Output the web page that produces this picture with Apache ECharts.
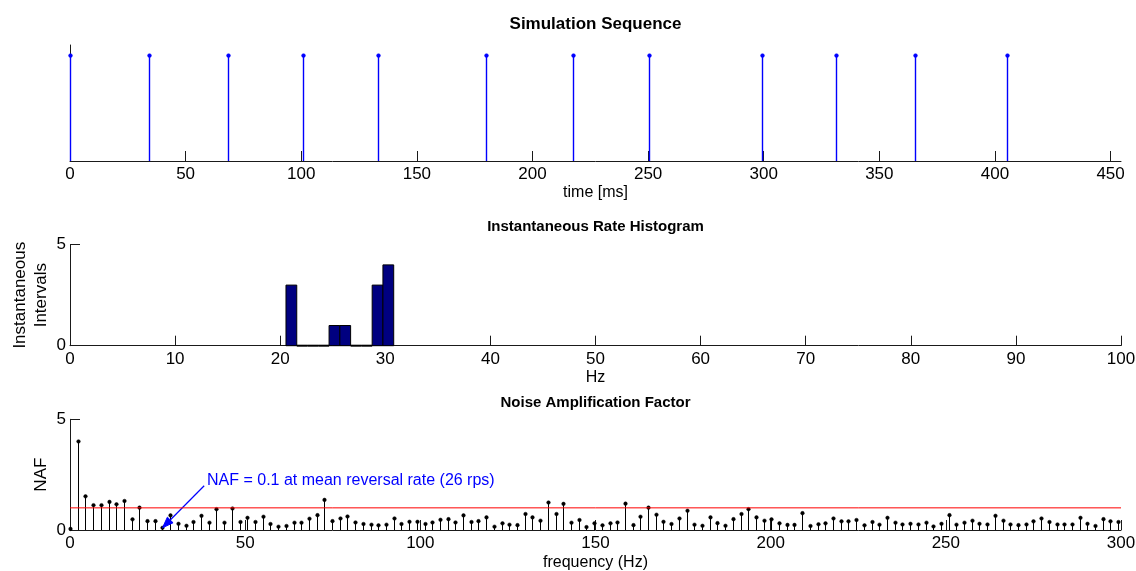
<!DOCTYPE html>
<html>
<head>
<meta charset="utf-8">
<script src="https://cdn.jsdelivr.net/npm/echarts@6/dist/echarts.min.js"></script>
<style>
  html, body { margin: 0; padding: 0; background: #fff; }
  #chart { width: 1136px; height: 571px; }
</style>
</head>
<body>
<div id="chart"></div>
<script>
// ---- Simulation sequence: spike times (ms) ----
const spikeTimes = [0, 34.3, 68.5, 100.9, 133.3, 180.0, 217.7, 250.3, 299.1, 331.3, 365.6, 405.1];
const spikeHeight = 1;
const timeMax = 454.5;
const timeTicks = [0, 50, 100, 150, 200, 250, 300, 350, 400, 450];

// ---- Instantaneous rate histogram (Hz) ----
const rateBinEdges = [20.55, 21.575, 22.6, 23.625, 24.65, 25.675, 26.7, 27.725, 28.75, 29.775, 30.8];
const rateCounts = [3, 0, 0, 0, 1, 1, 0, 0, 3, 4];

// ---- Noise amplification factor spectrum ----
const nafFreq = [
  0, 2.2, 4.4, 6.6, 8.8, 11, 13.2, 15.4, 17.6, 19.8,
  22, 24.2, 26.4, 28.6, 30.8, 33, 35.2, 37.4, 39.6, 41.8,
  44, 46.2, 48.4, 50.6, 52.8, 55, 57.2, 59.4, 61.6, 63.8,
  66, 68.2, 70.4, 72.6, 74.8, 77, 79.2, 81.4, 83.6, 85.8,
  88, 90.2, 92.4, 94.6, 96.8, 99, 101.2, 103.4, 105.6, 107.8,
  110, 112.2, 114.4, 116.6, 118.8, 121, 123.2, 125.4, 127.6, 129.8,
  132, 134.2, 136.4, 138.6, 140.8, 143, 145.2, 147.4, 149.6, 151.8,
  154, 156.2, 158.4, 160.6, 162.8, 165, 167.2, 169.4, 171.6, 173.8,
  176, 178.2, 180.4, 182.6, 184.8, 187, 189.2, 191.4, 193.6, 195.8,
  198, 200.2, 202.4, 204.6, 206.8, 209, 211.2, 213.4, 215.6, 217.8,
  220, 222.2, 224.4, 226.6, 228.8, 231, 233.2, 235.4, 237.6, 239.8,
  242, 244.2, 246.4, 248.6, 250.8, 253, 255.2, 257.4, 259.6, 261.8,
  264, 266.2, 268.4, 270.6, 272.8, 275, 277.2, 279.4, 281.6, 283.8,
  286, 288.2, 290.4, 292.6, 294.8, 297, 299.2
];
const nafValue = [
  0.05, 4.0, 1.52, 1.12, 1.12, 1.27, 1.16, 1.31, 0.48, 1.01,
  0.40, 0.40, 0.1, 0.66, 0.28, 0.19, 0.36, 0.64, 0.33, 0.94,
  0.33, 0.97, 0.36, 0.55, 0.36, 0.60, 0.27, 0.15, 0.18, 0.33,
  0.33, 0.51, 0.67, 1.36, 0.40, 0.52, 0.61, 0.34, 0.27, 0.24,
  0.21, 0.24, 0.52, 0.27, 0.37, 0.37, 0.27, 0.34, 0.46, 0.49,
  0.34, 0.66, 0.36, 0.40, 0.57, 0.15, 0.30, 0.24, 0.22, 0.72,
  0.57, 0.42, 1.24, 0.72, 1.18, 0.33, 0.45, 0.13, 0.30, 0.21,
  0.30, 0.34, 1.19, 0.22, 0.60, 1.01, 0.69, 0.37, 0.27, 0.52,
  0.87, 0.24, 0.19, 0.57, 0.31, 0.19, 0.49, 0.72, 0.94, 0.57,
  0.42, 0.48, 0.30, 0.23, 0.23, 0.76, 0.18, 0.26, 0.30, 0.52,
  0.39, 0.39, 0.45, 0.21, 0.36, 0.24, 0.55, 0.33, 0.25, 0.28,
  0.25, 0.33, 0.16, 0.28, 0.67, 0.24, 0.33, 0.42, 0.28, 0.25,
  0.64, 0.42, 0.25, 0.22, 0.25, 0.39, 0.52, 0.36, 0.25, 0.25,
  0.25, 0.55, 0.28, 0.18, 0.49, 0.39, 0.36
];
const nafThreshold = 1;
const meanRateIndex = 12;   // bin of the mean reversal rate (26 rps)

const FONT = '"Liberation Sans", Arial, Helvetica, sans-serif';
const AXIS_COLOR = '#1a1a1a';

const chart = echarts.init(document.getElementById('chart'), null, { renderer: 'canvas' });

// Stem plot item: vertical line from 0 to the value, dot on top
function stemRenderer(color, r, width) {
  return function (params, api) {
    const base = api.coord([api.value(0), 0]);
    const tip = api.coord([api.value(0), api.value(1)]);
    const x = Math.round(base[0]) + 0.5;
    return {
      type: 'group',
      children: [
        { type: 'line', shape: { x1: x, y1: base[1], x2: x, y2: tip[1] },
          style: { stroke: color, lineWidth: width } },
        { type: 'circle', shape: { cx: x, cy: tip[1], r: r },
          style: { fill: color, stroke: color, lineWidth: 0.5 } }
      ]
    };
  };
}

// Histogram bar item: rectangle between two bin edges
function histRenderer(params, api) {
  const lo = api.value(0), hi = api.value(1), n = api.value(2);
  const p0 = api.coord([lo, n]);
  const p1 = api.coord([hi, 0]);
  if (n === 0) {
    return { type: 'line', shape: { x1: p0[0], y1: p1[1], x2: p1[0], y2: p1[1] },
             style: { stroke: '#000', lineWidth: 2 } };
  }
  return {
    type: 'rect',
    shape: { x: p0[0], y: p0[1], width: p1[0] - p0[0], height: p1[1] - p0[1] },
    style: { fill: '#000080', stroke: '#000', lineWidth: 1 }
  };
}

// Annotation arrow: straight shaft from the label to the point, filled head at the end
function arrowRenderer(params, api) {
  const a = api.coord([api.value(0), api.value(1)]);
  const b = api.coord([api.value(2), api.value(3)]);
  const dx = b[0] - a[0], dy = b[1] - a[1];
  const len = Math.sqrt(dx * dx + dy * dy);
  const ux = dx / len, uy = dy / len;
  const headL = 11, headW = 4;
  const bx = b[0] - ux * headL, by = b[1] - uy * headL;
  return {
    type: 'group',
    children: [
      { type: 'line', shape: { x1: a[0], y1: a[1], x2: bx, y2: by },
        style: { stroke: '#0000ff', lineWidth: 1.2 } },
      { type: 'polygon',
        shape: { points: [[b[0], b[1]], [bx - uy * headW, by + ux * headW], [bx + uy * headW, by - ux * headW]] },
        style: { fill: '#0000ff', stroke: '#0000ff', lineWidth: 1 } }
    ]
  };
}

function valueAxis(extra) {
  return Object.assign({
    type: 'value',
    nameMoveOverlap: false,
    axisLine: { show: true, onZero: false, lineStyle: { color: AXIS_COLOR, width: 1 } },
    axisTick: { show: true, inside: true, length: 10, lineStyle: { color: AXIS_COLOR, width: 1 } },
    axisLabel: { color: '#000', fontSize: 17, fontFamily: FONT, margin: 5 },
    splitLine: { show: false },
    nameTextStyle: { color: '#000', fontSize: 16, fontFamily: FONT }
  }, extra);
}

const plotCenterX = 70 + (1136 - 70 - 15) / 2;

const option = {
  backgroundColor: '#fff',
  animation: false,
  grid: [
    { left: 70, right: 15, top: 45, height: 116, outerBoundsMode: 'none' },
    { left: 70, right: 15, top: 244.7, height: 101, outerBoundsMode: 'none' },
    { left: 70, right: 15, top: 419.3, height: 110.7, outerBoundsMode: 'none' }
  ],
  xAxis: [
    valueAxis({
      gridIndex: 0, min: 0, max: timeMax, interval: 50,
      axisTick: { show: true, inside: true, length: 10, customValues: timeTicks,
                  lineStyle: { color: AXIS_COLOR, width: 1 } },
      axisLabel: { color: '#000', fontSize: 17, fontFamily: FONT, margin: 5, customValues: timeTicks },
      name: 'time [ms]', nameLocation: 'middle', nameGap: 24
    }),
    valueAxis({
      gridIndex: 1, min: 0, max: 100, interval: 10,
      name: 'Hz', nameLocation: 'middle', nameGap: 24
    }),
    valueAxis({
      gridIndex: 2, min: 0, max: 300, interval: 50,
      name: 'frequency (Hz)', nameLocation: 'middle', nameGap: 25
    })
  ],
  yAxis: [
    valueAxis({
      gridIndex: 0, min: 0, max: 1.1,
      axisTick: { show: false }, axisLabel: { show: false }
    }),
    valueAxis({
      gridIndex: 1, min: 0, max: 5, interval: 5,
      axisLabel: { color: '#000', fontSize: 17, fontFamily: FONT, margin: 4 },
      name: 'Instantaneous\nIntervals', nameLocation: 'middle', nameRotate: 90, nameGap: 18,
      nameTextStyle: { color: '#000', fontSize: 17, fontFamily: FONT, lineHeight: 21 }
    }),
    valueAxis({
      gridIndex: 2, min: 0, max: 5, interval: 5,
      axisLabel: { color: '#000', fontSize: 17, fontFamily: FONT, margin: 4 },
      name: 'NAF', nameLocation: 'middle', nameRotate: 90, nameGap: 20,
      nameTextStyle: { color: '#000', fontSize: 17, fontFamily: FONT }
    })
  ],
  series: [
    {
      name: 'spikes', type: 'custom', xAxisIndex: 0, yAxisIndex: 0,
      renderItem: stemRenderer('#0000ff', 1.9, 1.4),
      data: spikeTimes.map(t => [t, spikeHeight])
    },
    {
      name: 'rate histogram', type: 'custom', xAxisIndex: 1, yAxisIndex: 1,
      renderItem: histRenderer,
      data: rateCounts.map((c, i) => [rateBinEdges[i], rateBinEdges[i + 1], c])
    },
    {
      name: 'NAF', type: 'custom', xAxisIndex: 2, yAxisIndex: 2,
      renderItem: stemRenderer('#000000', 1.8, 1),
      data: nafFreq.map((f, i) => [f, nafValue[i]])
    },
    {
      name: 'threshold', type: 'line', xAxisIndex: 2, yAxisIndex: 2,
      showSymbol: false, silent: true,
      lineStyle: { color: '#ff0000', width: 1 },
      data: [[0, nafThreshold], [300, nafThreshold]]
    },
    {
      name: 'annotation arrow', type: 'custom', xAxisIndex: 2, yAxisIndex: 2,
      silent: true, clip: false,
      renderItem: arrowRenderer,
      data: [[38.3, 2.0, nafFreq[meanRateIndex], nafValue[meanRateIndex]]]
    }
  ],
  graphic: [
    { type: 'text', x: plotCenterX, y: 24,
      style: { text: 'Simulation Sequence', fill: '#000', font: 'bold 17px ' + FONT,
               textAlign: 'center', textVerticalAlign: 'middle' } },
    { type: 'text', x: plotCenterX, y: 227,
      style: { text: 'Instantaneous Rate Histogram', fill: '#000', font: 'bold 15px ' + FONT,
               textAlign: 'center', textVerticalAlign: 'middle' } },
    { type: 'text', x: plotCenterX, y: 403,
      style: { text: 'Noise Amplification Factor', fill: '#000', font: 'bold 15px ' + FONT,
               textAlign: 'center', textVerticalAlign: 'middle' } },
    { type: 'text', x: 207, y: 481,
      style: { text: 'NAF = ' + nafValue[meanRateIndex] + ' at mean reversal rate (26 rps)',
               fill: '#0000ff', font: '16px ' + FONT,
               textAlign: 'left', textVerticalAlign: 'middle' } }
  ]
};

chart.setOption(option);
</script>
</body>
</html>
